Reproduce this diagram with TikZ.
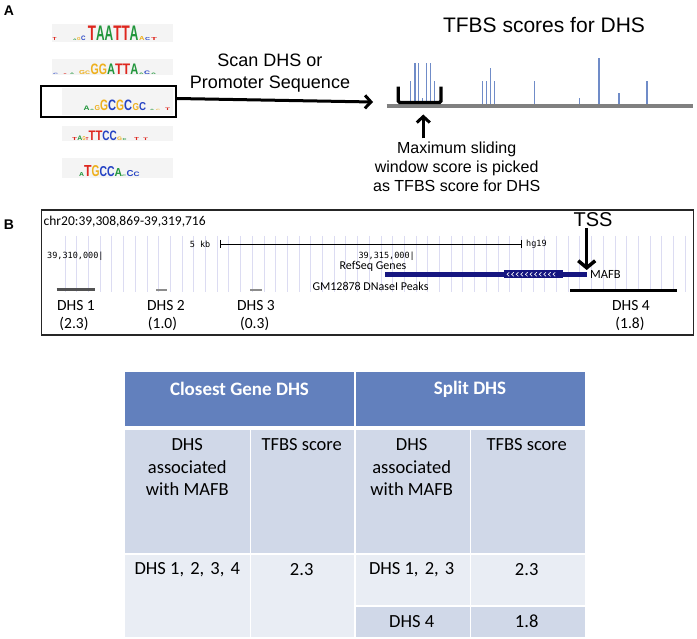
\documentclass[tikz,border=0pt]{standalone}
\usepackage{fontspec}
\setmainfont{Liberation Sans}
\newfontfamily\calfont{Carlito}
\newfontfamily\monofont{DejaVu Sans Mono}
\usepackage{graphicx}
\usetikzlibrary{arrows.meta}
\definecolor{mred}{RGB}{222,38,30}
\definecolor{mgreen}{RGB}{34,150,60}
\definecolor{mblue}{RGB}{36,66,196}
\definecolor{myellow}{RGB}{238,176,30}
\definecolor{lgbg}{RGB}{244,244,244}
\definecolor{spikec}{RGB}{112,140,200}
\definecolor{gridc}{RGB}{220,220,242}
\definecolor{navyc}{RGB}{22,22,128}
\definecolor{thead}{RGB}{98,128,189}
\definecolor{tdark}{RGB}{208,216,232}
\definecolor{tlight}{RGB}{233,237,244}
\begin{document}
\begin{tikzpicture}[x=1pt,y=-1pt,
  lg/.style={inner sep=0pt,anchor=south west,font=\bfseries},
  fatarrow/.style={line width=3pt,-{Straight Barb[length=6pt,width=13pt]}},
  spike/.style={spikec,line width=1.1pt},
  gridline/.style={gridc,line width=0.7pt},
  dhslbl/.style={inner sep=0pt,font=\calfont\fontsize{15.5}{18}\selectfont},
  tcell/.style={inner sep=0pt,align=center,font=\calfont\fontsize{18.5}{22.5}\selectfont},
  thcell/.style={inner sep=0pt,text=white,font=\calfont\bfseries\fontsize{19}{22}\selectfont},
  monolbl/.style={inner sep=0pt,font=\monofont\fontsize{8.5}{10}\selectfont},
  brlbl/.style={inner sep=0pt,font=\calfont\fontsize{12}{14}\selectfont}]
\useasboundingbox (0,0) rectangle (697,639);

% ---------------- Panel A ----------------
\node[inner sep=0pt,font=\bfseries\fontsize{14}{16}\selectfont] (labA) at (9,11) {A};

% logo backgrounds
\fill[lgbg] (52,24) rectangle (173,42);
\fill[lgbg] (52,59) rectangle (173,75.5);
\fill[lgbg] (62,88) rectangle (173,115);
\fill[lgbg] (62,126) rectangle (173,141.5);
\fill[lgbg] (62,158) rectangle (173,178);

% logo letters: x/baseline/letter/colour/width/height
\foreach \mx/\mb/\ml/\mc/\mw/\mh [count=\k] in {
  52.5/41/T/mred/4/3, 73/41/A/mgreen/3.5/1.5, 77/41/G/myellow/3.5/3, 81/41/C/mblue/4.5/4.5,
  87.7/41/T/mred/8.2/14.5, 95.9/41/A/mgreen/8.6/14.5, 104.5/41/A/mgreen/8.6/14.5,
  113.1/41/T/mred/8.2/14.5, 121.3/41/T/mred/8.2/14.5, 129.5/41/A/mgreen/8.8/14.5,
  139/41/A/myellow/5.5/4, 145/41/C/mblue/5/3, 151/41/T/mred/6/3,
  53/74.5/C/mblue/5/1.2, 63/74.5/T/mred/4/1, 70/74.5/A/mgreen/4/1.5,
  79/74.5/G/myellow/6/4, 85/74.5/C/myellow/5/3.5,
  90.5/74.5/G/myellow/8.2/10.5, 98.7/74.5/G/myellow/8.2/10.5, 106.9/74.5/A/mgreen/8/10.5,
  114.9/74.5/T/mred/7.6/10.5, 122.5/74.5/T/mred/7.6/10.5, 130.1/74.5/A/mgreen/8/10.5,
  139/74.5/A/mgreen/4.5/1.5, 144/74.5/C/mblue/6/3.5, 151/74.5/A/mgreen/5/1.5,
  83.5/111/A/mgreen/6/4.5, 90/111/A/mgreen/4/1.2, 94.5/111/G/myellow/5.5/5,
  100/111/G/myellow/8/10.5, 108/111/C/mblue/8/10.5, 116/111/G/myellow/8/10.5,
  124/111/C/mblue/8/10.5, 132.5/111/G/myellow/6.5/7, 139/111/C/mblue/7/8,
  150/111/A/mgreen/4/1.2, 156/111/C/myellow/4/1.2, 165/111/T/mred/5/2.5,
  72/140.5/T/mred/5/3, 77.2/140.5/A/mgreen/5/4.5, 82.4/140.5/G/myellow/3/4, 85.4/140.5/T/mred/3/3,
  88.5/140.5/T/mred/6.8/9.5, 95.3/140.5/T/mred/6.8/9.5, 102.1/140.5/C/mblue/7.2/9.5,
  109.3/140.5/C/mblue/7.2/9.5, 117/140.5/G/myellow/5/3.5, 122.5/140.5/C/mgreen/4/2,
  134/140.5/T/mred/5/3, 143/140.5/T/mred/5/2.5,
  79/176.5/A/mgreen/5/4, 84/176.5/T/mred/7.5/11, 91.5/176.5/G/myellow/8/11,
  99.5/176.5/C/mblue/7.5/10, 107/176.5/C/mblue/7.5/10, 114.5/176.5/A/mgreen/7.5/8,
  122/176.5/C/mgreen/4/1.5, 126.5/176.5/C/mblue/7/6, 133.5/176.5/C/mblue/6/4.5}
  \node[lg,text=\mc] (lgl\k) at (\mx,\mb) {\resizebox{\mw pt}{\mh pt}{\ml}};

% selected motif box
\node[draw,line width=1.2pt,minimum width=135pt,minimum height=31pt,inner sep=0pt] (selbox) at (108.5,101.5) {};

% scan arrow
\coordinate (scantip) at (373,102);
\draw[fatarrow] ([yshift=3pt]selbox.east) -- (scantip);
\node[inner sep=0pt,align=center,font=\fontsize{18}{21.5}\selectfont] (scantxt) at (270,73) {Scan DHS or\\Promoter Sequence};

% title
\node[inner sep=0pt,font=\fontsize{21}{24}\selectfont] (title) at (544,25) {TFBS scores for DHS};

% spikes
\foreach \sx/\st in {410.7/81,415/62.7,418.7/62.7,422.3/98,426.7/62.7,430.3/62.7,434.7/81,
  482.7/81,486.7/81,490.7/68,494.7/81,534.7/81,579.3/98,599/58,619/92.7,647/81}
  \draw[spike] (\sx,104) -- (\sx,\st);
% sequence bar
\draw[line width=4pt,black!50] (386.7,105.7) -- (693.3,105.7);
% window bracket
\draw[line width=3.3pt,rounded corners=1.5pt] (398.3,86.7) -- (398.3,102.5) -- (441,102.5) -- (441,86.7);
% up arrow
\coordinate (uptail) at (423.3,138.3);
\coordinate (uptip) at (423.3,114.5);
\draw[fatarrow] (uptail) -- (uptip);
\node[inner sep=0pt,align=center,font=\fontsize{16}{19.2}\selectfont] (maxtxt) at (456.7,167) {Maximum sliding\\window score is picked\\as TFBS score for DHS};

% ---------------- Panel B ----------------
\node[inner sep=0pt,font=\bfseries\fontsize{14}{16}\selectfont] (labB) at (9,225) {B};
\foreach \i in {0,...,53}
  \draw[gridline] (65+\i*11.7,236) -- (65+\i*11.7,292);
\draw[line width=1.2pt,black!85] (41.5,210) rectangle (693.5,335);
\node[inner sep=0pt,anchor=west,font=\calfont\fontsize{13.5}{15}\selectfont] (chr) at (43.5,222) {chr20:39,308,869-39,319,716};

% scale bar
\node[monolbl] (kb) at (200,244) {5 kb};
\coordinate (sbl) at (220.7,244);
\coordinate (sbr) at (521.7,244);
\draw[line width=0.7pt] (sbl) -- (sbr);
\draw[line width=0.7pt] ([yshift=4pt]sbl) -- ([yshift=-4pt]sbl);
\draw[line width=0.7pt] ([yshift=4pt]sbr) -- ([yshift=-4pt]sbr);
\node[monolbl,anchor=west] (hg) at (526,244) {hg19};
\node[monolbl,anchor=west] (pos1) at (47,256) {39,310,000|};
\node[monolbl,anchor=east] (pos2) at (415,256) {39,315,000|};
\node[brlbl] (refseq) at (373,266.5) {RefSeq Genes};
\node[brlbl] (gm) at (370.5,286) {GM12878 DNaseI Peaks};

% gene
\draw[navyc,line width=4.7pt] (385,274.3) -- (586.7,274.3);
\fill[navyc] (504,270.4) rectangle (563.3,278.2);
\foreach \cx in {507,511.6,...,557}
  \draw[white,line width=0.6pt] (\cx+2.2,272.3) -- (\cx,274.3) -- (\cx+2.2,276.3);
\node[brlbl,anchor=west,font=\calfont\fontsize{12.5}{14}\selectfont] (mafb) at (590,274.5) {MAFB};

% TSS
\node[inner sep=0pt,font=\fontsize{20}{22}\selectfont] (tss) at (593,219.5) {TSS};
\coordinate (tsstop) at (586.7,228);
\coordinate (tsstip) at (586.7,270);
\draw[line width=3.5pt,-{Straight Barb[length=7pt,width=17pt]}] (tsstop) -- (tsstip);

% DHS peaks
\draw[line width=3pt,black!68] (56.7,290) -- (95,290);
\draw[line width=2.5pt,black!45] (156,290) -- (166.7,290);
\draw[line width=2.5pt,black!45] (250,290) -- (261.7,290);
\draw[line width=3pt,black] (570,290.7) -- (676.7,290.7);
\node[dhslbl] (d1) at (76,306) {DHS 1};
\node[dhslbl] (d1v) at (74,324) {(2.3)};
\node[dhslbl] (d2) at (166,306) {DHS 2};
\node[dhslbl] (d2v) at (162.5,324) {(1.0)};
\node[dhslbl] (d3) at (256,306) {DHS 3};
\node[dhslbl] (d3v) at (254.7,324) {(0.3)};
\node[dhslbl] (d4) at (631,306) {DHS 4};
\node[dhslbl] (d4v) at (630,324) {(1.8)};

% ---------------- Table ----------------
\fill[thead] (125,372) rectangle (353.5,425.7);
\fill[thead] (355.5,372) rectangle (585,425.7);
\fill[tdark] (125,430) rectangle (249.5,553.3);
\fill[tdark] (251,430) rectangle (353.5,553.3);
\fill[tdark] (355.5,430) rectangle (469.5,553.3);
\fill[tdark] (471,430) rectangle (585,553.3);
\fill[tlight] (125,555) rectangle (249.5,637);
\fill[tlight] (251,555) rectangle (353.5,637);
\fill[tlight] (355.5,555) rectangle (469.5,605.3);
\fill[tlight] (471,555) rectangle (585,605.3);
\fill[tdark] (355.5,607) rectangle (469.5,637);
\fill[tdark] (471,607) rectangle (585,637);

\node[thcell] (h1) at (239.5,389) {Closest Gene DHS};
\node[thcell] (h2) at (470,389) {Split DHS};
\node[tcell] (c11) at (187.3,467.5) {DHS\\associated\\with MAFB};
\node[tcell] (c12) at (301.7,445) {TFBS score};
\node[tcell] (c13) at (411.7,467.5) {DHS\\associated\\with MAFB};
\node[tcell] (c14) at (526.7,445) {TFBS score};
\node[tcell] (c21) at (187.3,570) {DHS 1,\hspace{2pt} 2,\hspace{2pt} 3,\hspace{2pt} 4};
\node[tcell] (c22) at (301.7,570) {2.3};
\node[tcell] (c23) at (411.7,570) {DHS 1,\hspace{2pt} 2,\hspace{2pt} 3};
\node[tcell] (c24) at (526.7,570) {2.3};
\node[tcell] (c33) at (411.7,621.7) {DHS 4};
\node[tcell] (c34) at (526.7,621.7) {1.8};
\end{tikzpicture}
\end{document}
